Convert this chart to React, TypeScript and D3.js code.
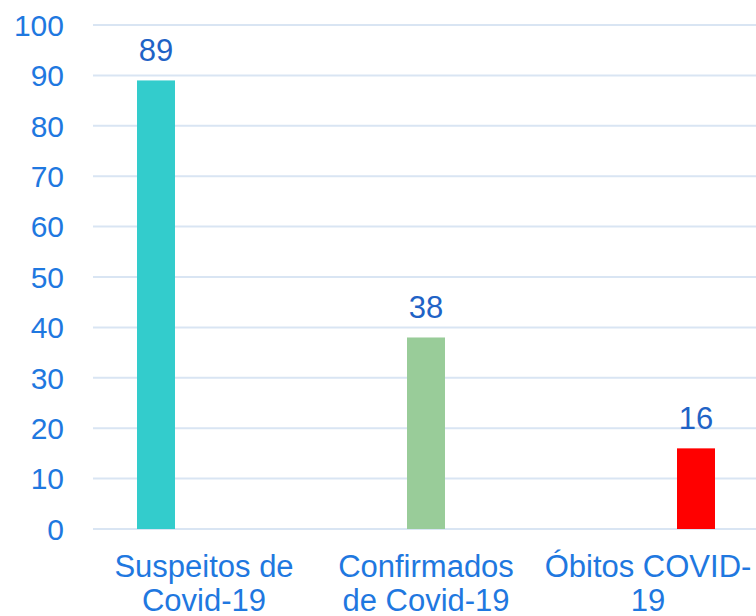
import * as d3 from "d3";

const categories = ["Suspeitos de Covid-19", "Confirmados de Covid-19", "Óbitos COVID-19"];
const labelLines = [["Suspeitos de", "Covid-19"], ["Confirmados", "de Covid-19"], ["Óbitos COVID-", "19"]];
const series = ["Suspeitos", "Confirmados", "Óbitos"];
const values = [89, 38, 16];
const colors = ["#33cccc", "#99cc99", "#ff0000"];
const yTicks = [0, 10, 20, 30, 40, 50, 60, 70, 80, 90, 100];

const width = 756;
const height = 616;

export default function App() {
    const x0 = d3.scaleBand<string>().domain(categories).range([93, 759]);
    const x1 = d3.scaleBand<string>().domain(series)
        .range([x0.bandwidth() / 2 - 72, x0.bandwidth() / 2 + 72])
        .paddingInner(10 / 48).paddingOuter(5 / 48);
    const y = d3.scaleLinear([0, 100], [529, 25]);
    const font = "'Liberation Sans', Arial, sans-serif";

    return (
        <svg width={width} height={height} style={{ position: "absolute", left: 0, top: 0, background: "white" }} fontFamily={font}>
            <g stroke="#d9e5f3" strokeWidth="2">
                {yTicks.map((t) => (
                    <line key={t} x1={93} x2={759} y1={y(t)} y2={y(t)} />
                ))}
            </g>
            <g fill="#1f78e0" fontSize="30" textAnchor="end">
                {yTicks.map((t) => (
                    <text key={t} x={64} y={y(t)} dy="0.36em">{t}</text>
                ))}
            </g>
            {values.map((v, i) => {
                const bx = (x0(categories[i]) ?? 0) + (x1(series[i]) ?? 0);
                const bw = x1.bandwidth();
                return (
                    <g key={categories[i]}>
                        <rect x={bx} y={y(v)} width={bw} height={y(0) - y(v)} fill={colors[i]} />
                        <text x={bx + bw / 2} y={y(v) - 19} textAnchor="middle" fontSize="31" fill="#1f63c6">{v}</text>
                    </g>
                );
            })}
            <g fill="#1f78e0" fontSize="31" textAnchor="middle">
                {categories.map((c, i) => (
                    <text key={c} x={(x0(c) ?? 0) + x0.bandwidth() / 2} y={577}>
                        {labelLines[i].map((l, j) => (
                            <tspan key={j} x={(x0(c) ?? 0) + x0.bandwidth() / 2} dy={j === 0 ? 0 : 34}>{l}</tspan>
                        ))}
                    </text>
                ))}
            </g>
        </svg>
    );
}
